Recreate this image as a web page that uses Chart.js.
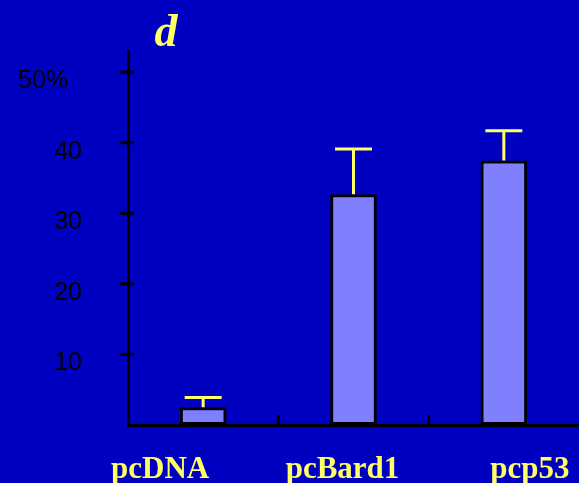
<!DOCTYPE html>
<html>
<head>
<meta charset="utf-8">
<script src="https://cdn.jsdelivr.net/npm/chart.js@4/dist/chart.umd.min.js"></script>
<style>
  html, body { margin: 0; padding: 0; background: #0000C0; }
  #wrap { width: 579px; height: 483px; position: relative; }
</style>
</head>
<body>
<div id="wrap"><canvas id="c"></canvas></div>
<script>
// ---- data ----
const categories = ['pcDNA', 'pcBard1', 'pcp53'];
const values = [2.5, 32.7, 37.5];
const errors = [1.4, 6.4, 4.2];
const yTickValues = [10, 20, 30, 40, 50];
const yTickLabels = ['10', '20', '30', '40', '50%'];
const panelLabel = 'd';

const YELLOW = '#FFFF66';

const decor = {
  id: 'decor',
  beforeDraw(chart) {
    const ctx = chart.ctx;
    ctx.save();
    ctx.fillStyle = '#0000C0';
    ctx.fillRect(0, 0, chart.width, chart.height);
    ctx.restore();
  },
  afterDatasetsDraw(chart) {
    const ctx = chart.ctx;
    const ys = chart.scales.y;
    const xs = chart.scales.x;
    const area = chart.chartArea;
    const meta = chart.getDatasetMeta(0);
    ctx.save();
    // error bars (upper only)
    ctx.strokeStyle = YELLOW;
    ctx.lineWidth = 3;
    meta.data.forEach((bar, i) => {
      const yTop = ys.getPixelForValue(values[i] + errors[i]);
      ctx.beginPath();
      ctx.moveTo(bar.x, bar.y);
      ctx.lineTo(bar.x, yTop);
      ctx.moveTo(bar.x - 18.5, yTop);
      ctx.lineTo(bar.x + 18.5, yTop);
      ctx.stroke();
    });
    // y tick marks crossing the axis
    ctx.strokeStyle = '#000';
    ctx.lineWidth = 3;
    ys.ticks.forEach(t => {
      const y = ys.getPixelForValue(t.value);
      ctx.beginPath();
      ctx.moveTo(area.left - 8, y);
      ctx.lineTo(area.left + 6, y);
      ctx.stroke();
    });
    // x tick marks between categories, pointing up
    for (let i = 1; i < categories.length; i++) {
      const x = (xs.getPixelForValue(i - 1) + xs.getPixelForValue(i)) / 2;
      ctx.beginPath();
      ctx.moveTo(x, area.bottom - 10);
      ctx.lineTo(x, area.bottom + 1);
      ctx.stroke();
    }
    // category labels
    const nudge = [-43, -11, 26];
    ctx.fillStyle = YELLOW;
    ctx.font = 'bold 31px "Liberation Serif", "Times New Roman", serif';
    ctx.textAlign = 'center';
    ctx.textBaseline = 'alphabetic';
    categories.forEach((c, i) => {
      ctx.fillText(c, xs.getPixelForValue(i) + nudge[i], area.bottom + 53);
    });
    // panel label
    ctx.font = 'italic bold 46px "Liberation Serif", "Times New Roman", serif';
    ctx.textAlign = 'center';
    ctx.fillText(panelLabel, area.left + 38, 46);
    ctx.restore();
  }
};

new Chart(document.getElementById('c'), {
  type: 'bar',
  data: {
    labels: categories,
    datasets: [{
      data: values,
      backgroundColor: '#8080FF',
      borderColor: '#000000',
      borderWidth: 3,
      borderSkipped: false,
      barPercentage: 0.31,
      categoryPercentage: 1.0
    }]
  },
  options: {
    responsive: true,
    maintainAspectRatio: false,
    devicePixelRatio: 1,
    animation: false,
    layout: { padding: { top: 51, right: 0, bottom: 0, left: 0 } },
    plugins: { legend: { display: false }, tooltip: { enabled: false }, title: { display: false } },
    scales: {
      x: {
        grid: { display: false, drawTicks: false },
        border: { display: true, color: '#000', width: 3 },
        ticks: { display: false },
        afterFit(s) { s.height = 58; }
      },
      y: {
        min: 0,
        max: 53,
        grid: { display: true, drawOnChartArea: false, drawTicks: true, tickLength: 44, tickColor: 'rgba(0,0,0,0)' },
        border: { display: true, color: '#000', width: 3 },
        afterBuildTicks(s) { s.ticks = yTickValues.map(v => ({ value: v })); },
        afterFit(s) { s.width = 128; },
        ticks: {
          color: '#000',
          font: { family: '"Liberation Sans", Arial, sans-serif', size: 25 },
          padding: 2,
          labelOffset: 9,
          callback: (v, i) => yTickLabels[i] + (i === yTickLabels.length - 1 ? '  ' : '')
        }
      }
    }
  },
  plugins: [decor]
});
</script>
</body>
</html>
